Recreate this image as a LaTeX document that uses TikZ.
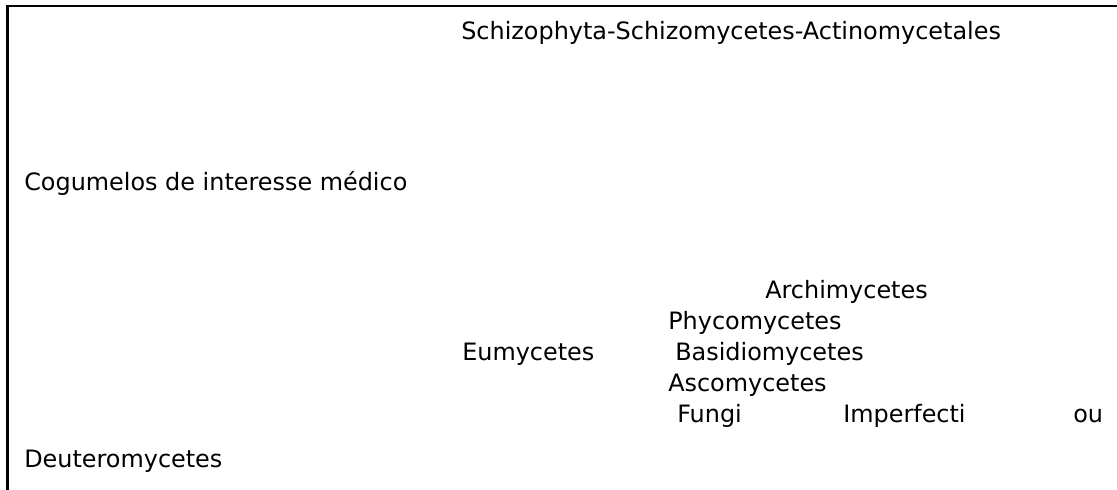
\documentclass[tikz,border=0pt]{standalone}
\usepackage{fontspec}
\setmainfont{DejaVu Sans}
\usepackage{tikz}
\usetikzlibrary{positioning}

\begin{document}
\begin{tikzpicture}[x=0.025cm, y=-0.025cm,
  taxon/.style={anchor=base west, inner sep=0pt, font=\fontsize{17}{20}\selectfont},
  frame/.style={line width=2.1pt}
]
\useasboundingbox (0,0) rectangle (1117,490);
% open frame: left and top edges only
\draw[frame] (7.5,490) -- (7.5,6) -- (1117,6);

\node[taxon] (schizo) at (461,40) {Schizophyta-Schizomycetes-Actinomycetales};
\node[taxon] (cogu) at (24,191) {Cogumelos de interesse médico};

\node[taxon] (archi) at (765,299) {Archimycetes};
\node[taxon] (phyco) at (668,330) {Phycomycetes};
\node[taxon] (eumy) at (462,361) {Eumycetes};
\node[taxon] (basid) at (675,361) {Basidiomycetes};
\node[taxon] (asco) at (668,392) {Ascomycetes};
\node[taxon] (fungi) at (677,423) {Fungi};
\node[taxon] (imperf) at (843,423) {Imperfecti};
\node[taxon] (ou) at (1073,423) {ou};
\node[taxon] (deutero) at (24,468) {Deuteromycetes};
\end{tikzpicture}
\end{document}
